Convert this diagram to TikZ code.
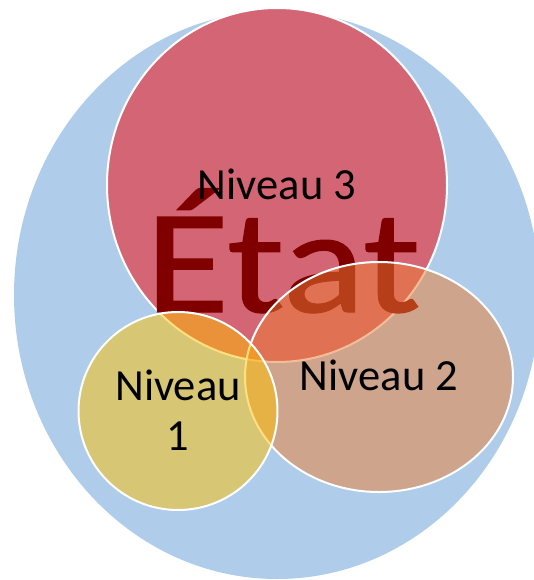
\documentclass[tikz,border=0pt]{standalone}
\usepackage{fontspec}
\usepackage{graphicx}
\setmainfont{Carlito}
\newfontfamily\etatfont[FakeBold=0.8]{Carlito}
\usetikzlibrary{shapes.geometric}
\definecolor{bluefill}{HTML}{AFCDEA}
\definecolor{redfill}{HTML}{D46574}
\definecolor{orangefill}{HTML}{ED7D31}
\definecolor{goldfill}{HTML}{FFC000}
\definecolor{etatcol}{HTML}{800000}
\begin{document}
\begin{tikzpicture}[x=1pt,y=-1pt,
  shapebase/.style={ellipse, inner sep=0pt, outer sep=0pt},
  ring/.style={shapebase, draw=white, line width=2pt},
  lab/.style={font=\fontsize{44.5}{50}\selectfont, text=black, align=center, inner sep=0pt}]
\useasboundingbox (0,0) rectangle (534,580);
\node[shapebase, fill=bluefill, minimum width=526pt, minimum height=568pt] (etatbg) at (277,295) {};
\node[ring, fill=redfill, minimum width=340pt, minimum height=354pt] (n3) at (277,185) {};
\node[text=etatcol, font=\etatfont\fontsize{148}{150}\selectfont, inner sep=0pt, anchor=base] (etat) at (283,312) {\scalebox{1.16}[1]{État}};
\node[ring, fill=orangefill, fill opacity=0.5, minimum width=268pt, minimum height=230pt] (n2) at (379,377) {};
\node[ring, fill=goldfill, fill opacity=0.5, minimum width=199pt, minimum height=198pt] (n1) at (178,411) {};
\node[lab, anchor=base] (l3) at (277,199) {Niveau 3};
\node[lab, anchor=base] (l2) at (379,390) {Niveau 2};
\node[lab] (l1) at (178,410) {Niveau\\1};
\end{tikzpicture}
\end{document}
